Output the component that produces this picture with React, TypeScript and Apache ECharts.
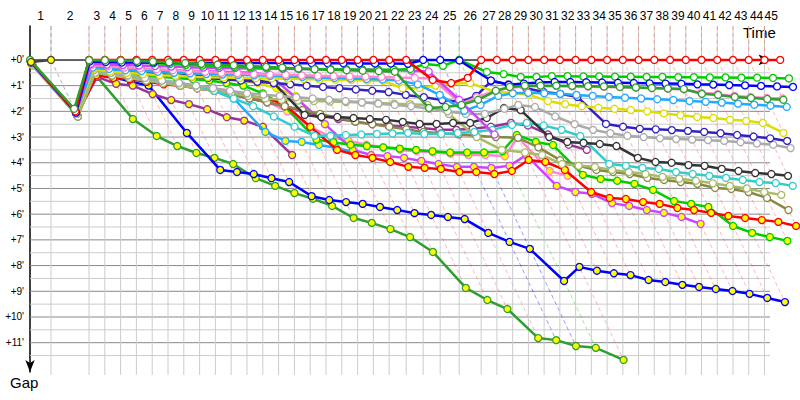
import React, { useEffect, useRef } from "react";
import * as echarts from "echarts";

// leader lap times in seconds, laps 1..45
const lapSeconds = [
  103.3, 186.9,
  77.7, 77.7, 77.7, 77.7, 77.7, 77.7, 77.7, 77.7, 77.7, 77.7,
  77.7, 77.7, 77.7, 77.7, 77.7, 77.7, 77.7, 77.7, 77.7,
  83.6, 83.6, 83.6, 93.4, 108.2,
  77.4, 77.4, 77.4, 77.4, 77.4, 77.4, 77.4, 77.4, 77.4, 77.4,
  77.4, 77.4, 77.4, 77.4, 77.4, 77.4, 77.4, 77.4, 77.4,
];

const gapTicks = [0, 1, 2, 3, 4, 5, 6, 7, 8, 9, 10, 11];
const gapMinor = [0.5, 1.5, 2.5, 3.5, 4.5, 5.5, 6.5, 7.5, 8.5, 9.5, 10.5, 11.5];

// gaps (minutes) to the leader, per lap, starting at lap 0
const redWhite = [0.05, 2.0, 0, 0, 0, 0, 0, 0, 0, 0, 0, 0, 0, 0, 0, 0, 0, 0, 0, 0, 0, 0, 0, 0.78, 0.9, 0.7, 0, 0, 0, 0, 0, 0, 0, 0, 0, 0, 0, 0, 0, 0, 0, 0, 0, 0, 0, 0];
const blueWhite = [0.1, 2.05, 0.06, 0.08, 0.1, 0.1, 0.1, 0.1, 0.12, 0.12, 0.12, 0.12, 0.12, 0.12, 0.12, 0.13, 0.13, 0.13, 0.13, 0.14, 0.14, 0.14, 0.15, 0, 0, 0.02, 0.8, 0.97, 0.92, 0.88, 0.86, 0.86, 0.87, 0.88, 0.89, 0.9, 0.91, 0.92, 0.93, 0.95, 0.96, 0.98, 0.99, 1.01, 1.03, 1.05];
const limeWhite = [0.04, 1.95, 0.01, 0.04, 0.07, 0.1, 0.13, 0.16, 0.19, 0.22, 0.25, 0.27, 0.29, 0.31, 0.33, 0.34, 0.35, 0.36, 0.37, 0.38, 0.38, 0.38, 0.35, 0.16, 0.23, 0, 0.47, 0.55, 0.66, 0.66, 0.63, 0.63, 0.64, 0.64, 0.65, 0.65, 0.66, 0.66, 0.67, 0.67, 0.68, 0.68, 0.69, 0.69, 0.7, 0.72];
const greenWhite = [0.0, 1.9, 0.01, 0.01, 0.02, 0.04, 0.06, 0.09, 0.12, 0.15, 0.18, 0.21, 0.24, 0.27, 0.3, 0.33, 0.36, 0.38, 0.4, 0.42, 0.44, 0.46, 1.87, 1.83, 1.75, 1.55, 1.2, 1.05, 1.0, 1.0, 1.0, 1.01, 1.02, 1.03, 1.05, 1.07, 1.09, 1.11, 1.13, 1.32, 1.36, 1.44, 1.48, 1.52, 1.55];
const pinkWhite = [0.1, 2.0, 0.2, 0.25, 0.3, 0.33, 0.36, 0.4, 0.43, 0.46, 0.5, 0.52, 0.55, 0.57, 0.58, 0.6, 0.62, 0.63, 0.64, 0.65, 0.66, 0.68, 0.7, 0.72, 1.7, 1.45, 1.2, 1.08, 1.03, 1.02, 1.02, 1.03, 1.04, 1.05, 1.06, 1.08, 1.1, 1.12, 1.15, 1.28, 1.33, 1.4, 1.44, 1.48, 1.5];
const violetWhite = [0.1, 2.05, 0.15, 0.18, 0.2, 0.22, 0.24, 0.26, 0.28, 0.3, 0.31, 0.32, 0.33, 0.34, 0.35, 0.35, 0.36, 0.36, 0.37, 0.37, 0.38, 0.4, 0.42, 0.45, 1.55, 2.9];
const skyWhite = [0.1, 2.05, 0.3, 0.35, 0.4, 0.43, 0.46, 0.5, 0.52, 0.55, 0.57, 0.58, 0.6, 0.62, 0.64, 0.66, 0.68, 0.7, 0.72, 0.74, 0.76, 0.8, 0.95, 1.36, 1.98, 1.75, 1.4, 1.3, 1.28, 1.3, 1.32, 1.36, 1.4, 1.44, 1.47, 1.5, 1.53, 1.56, 1.6, 1.63, 1.66, 1.7, 1.74, 1.78, 1.83];
const yellowWhite = [0.15, 2.1, 0.35, 0.45, 0.5, 0.55, 0.6, 0.62, 0.65, 0.67, 0.68, 0.7, 0.71, 0.72, 0.73, 0.74, 0.76, 0.77, 0.78, 0.8, 0.82, 1.1, 1.09, 1.0, 0.93, 0.9, 1.25, 1.28, 1.36, 1.6, 1.72, 1.8, 1.86, 1.9, 1.95, 2.0, 2.08, 2.15, 2.22, 2.26, 2.33, 2.37, 2.45, 2.84];
const navyWhite = [0.12, 2.1, 0.3, 0.38, 0.45, 0.5, 0.55, 0.6, 0.65, 0.7, 0.75, 0.8, 0.85, 0.9, 0.95, 1.0, 1.05, 1.1, 1.15, 1.2, 1.25, 1.36, 1.45, 1.56, 1.63, 1.4, 0.82, 0.95, 1.1, 1.25, 1.32, 1.44, 2.49, 2.6, 2.68, 2.7, 2.73, 2.76, 2.8, 2.85, 2.92, 2.98, 3.05, 3.15];
const grayWhite = [0.15, 2.1, 0.4, 0.5, 0.6, 0.7, 0.8, 0.9, 1.0, 1.1, 1.2, 1.3, 1.35, 1.4, 1.45, 1.5, 1.55, 1.6, 1.65, 1.7, 1.75, 1.8, 1.9, 2.0, 2.1, 2.1, 1.9, 1.75, 1.83, 2.2, 2.5, 2.72, 2.85, 2.95, 3.0, 3.05, 3.08, 3.1, 3.12, 3.15, 3.2, 3.25, 3.3, 3.43];
const blackWhite = [0.1, 2.1, 0.2, 0.25, 0.3, 0.35, 0.4, 0.47, 0.6, 0.65, 0.68, 0.72, 0.8, 0.9, 2.14, 2.22, 2.22, 2.26, 2.3, 2.33, 2.41, 2.49, 2.49, 2.45, 2.45, 2.26, 1.87, 1.95, 3.0, 3.19, 3.23, 3.27, 3.35, 3.81, 3.97, 4.0, 4.09, 4.12, 4.24, 4.32, 4.4, 4.44, 4.51];
const cyanWhite = [0.12, 2.1, 0.4, 0.5, 0.6, 0.7, 0.8, 0.9, 1.0, 1.2, 1.5, 1.8, 2.2, 2.6, 2.95, 2.95, 2.92, 2.9, 2.88, 2.86, 2.84, 2.88, 2.88, 2.84, 2.8, 2.72, 2.53, 2.45, 2.55, 2.72, 2.96, 4.05, 4.12, 4.2, 4.24, 4.36, 4.44, 4.51, 4.59, 4.67, 4.75, 4.79, 4.9];
const oliveLightWhite = [0.2, 2.2, 0.5, 0.6, 0.7, 0.8, 0.9, 1.0, 1.1, 1.2, 1.3, 1.4, 1.5, 1.55, 1.58, 1.6, 1.62, 1.64, 1.66, 1.68, 1.7, 1.72, 1.75, 2.1, 3.0, 3.5, 3.6, 3.7, 4.05, 4.12, 4.16, 4.28, 4.36, 4.44, 4.55, 4.62, 4.7, 4.8, 4.9, 5.0, 5.14, 5.25];
const oliveWhite = [0.2, 2.2, 0.5, 0.6, 0.7, 0.8, 0.9, 1.0, 1.1, 1.2, 1.35, 1.5, 1.65, 1.8, 1.95, 2.1, 2.25, 2.4, 2.5, 2.6, 2.7, 2.8, 2.85, 2.9, 2.95, 3.0, 3.03, 3.4, 3.9, 4.12, 4.28, 4.36, 4.44, 4.59, 4.67, 4.75, 4.82, 4.98, 5.02, 5.14, 5.37, 5.84];
const purpleWhite = [0.15, 2.15, 0.5, 0.6, 0.7, 0.8, 0.9, 1.0, 1.1, 1.2, 1.35, 1.5, 1.65, 1.8, 2.0, 2.15, 2.3, 2.4, 2.5, 2.55, 2.6, 2.65, 2.72, 2.72, 2.68, 2.6, 2.45, 2.55, 2.9, 3.3, 3.5];
const redYellow = [0.15, 2.15, 0.6, 0.7, 0.75, 0.85, 0.95, 1.0, 1.1, 1.2, 1.3, 1.4, 1.5, 1.7, 2.6, 3.5, 3.7, 3.81, 3.97, 4.16, 4.2, 4.24, 4.36, 4.36, 4.44, 4.32, 3.89, 3.97, 4.28, 5.14, 5.37, 5.41, 5.53, 5.6, 5.76, 5.84, 5.95, 6.07, 6.15, 6.23, 6.3, 6.46];
const limeYellow = [0.15, 2.15, 0.5, 0.55, 0.6, 0.62, 0.65, 0.7, 0.75, 0.8, 0.9, 1.0, 1.3, 1.8, 3.1, 3.2, 3.3, 3.35, 3.4, 3.45, 3.5, 3.55, 3.6, 3.6, 3.6, 3.55, 2.92, 3.19, 3.31, 4.47, 4.63, 4.7, 4.82, 5.06, 5.49, 5.6, 5.72, 6.46, 6.73, 6.89, 7.04];
const violetYellow = [0.15, 2.15, 0.3, 0.32, 0.34, 0.36, 0.38, 0.4, 0.42, 0.44, 0.46, 0.48, 0.5, 0.6, 1.5, 2.5, 3.5, 3.7, 3.74, 3.81, 3.93, 4.05, 4.16, 4.16, 4.2, 4.12, 3.7, 4.9, 5.14, 5.21, 5.57, 5.68, 5.84, 5.95, 6.11, 6.38];
const pinkYellow = [0.15, 2.15, 0.4, 0.5, 0.6, 0.7, 0.8, 0.9, 1.0, 1.1, 1.2, 1.4, 1.6, 2.0, 2.6, 3.0, 3.15, 3.3, 3.4, 3.5, 3.55, 3.6, 3.65, 3.7, 3.7, 3.75, 3.0, 4.32, 4.51];
const skyYellow = [0.15, 2.15, 0.45, 0.55, 0.65, 0.75, 0.85, 0.95, 1.05, 1.2, 1.5, 2.8, 3.15, 3.19, 3.31, 3.42, 3.58];
const blueYellow = [0.1, 2.2, 0.35, 0.66, 0.85, 1.0, 2.84, 4.28, 4.36, 4.44, 4.6, 4.75, 5.3, 5.45, 5.53, 5.6, 5.72, 5.84, 5.96, 6.03, 6.11, 6.19, 6.73, 7.08, 7.35, 8.6, 8.05, 8.2, 8.3, 8.37, 8.56, 8.64, 8.75, 8.83, 8.91, 8.99, 9.1, 9.26, 9.42];
const greenYellow = [0.2, 2.1, 0.66, 2.3, 2.96, 3.35, 3.62, 3.81, 4.05, 4.6, 4.9, 5.18, 5.4, 5.68, 6.15, 6.34, 6.58, 6.89, 7.47, 8.87, 9.34, 9.69, 10.82, 10.9, 11.13, 11.2, 11.67];
const purpleYellow = [0.1, 2.1, 0.66, 0.93, 1.0, 1.33, 1.56, 1.72, 1.92, 2.23, 2.36, 2.6, 3.7];
const yellowYellow = [0.1, 2.0, 0.45, 0.5, 0.55, 0.6, 0.62, 0.65, 0.68, 0.7, 0.75, 0.8, 0.9, 1.1, 1.4];
const charcoalYellow = [0.08, 0];

// bottom to top drawing order
const drivers = [
  { color: "#2e9e2e", fill: "#ffff00", gaps: greenYellow },
  { color: "#0000ff", fill: "#ffff00", gaps: blueYellow },
  { color: "#993399", fill: "#ffff00", gaps: purpleYellow },
  { color: "#dddd00", fill: "#ffff00", gaps: yellowYellow },
  { color: "#22aaff", fill: "#ffff00", gaps: skyYellow },
  { color: "#ff88cc", fill: "#ffff00", gaps: pinkYellow },
  { color: "#cc44ff", fill: "#ffff00", gaps: violetYellow },
  { color: "#00cc00", fill: "#ffff00", gaps: limeYellow },
  { color: "#ff0000", fill: "#ffff00", gaps: redYellow },
  { color: "#993399", fill: "#ffffff", gaps: purpleWhite },
  { color: "#888844", fill: "#ffffff", gaps: oliveWhite },
  { color: "#aabb66", fill: "#ffffff", gaps: oliveLightWhite },
  { color: "#33cccc", fill: "#ffffff", gaps: cyanWhite },
  { color: "#333333", fill: "#ffffff", gaps: blackWhite },
  { color: "#aaaaaa", fill: "#ffffff", gaps: grayWhite },
  { color: "#3322bb", fill: "#ffffff", gaps: navyWhite },
  { color: "#dddd00", fill: "#ffffff", gaps: yellowWhite },
  { color: "#22aaff", fill: "#ffffff", gaps: skyWhite },
  { color: "#ff88cc", fill: "#ffffff", gaps: pinkWhite },
  { color: "#cc44ff", fill: "#ffffff", gaps: violetWhite },
  { color: "#00cc00", fill: "#ffffff", gaps: limeWhite },
  { color: "#0000ff", fill: "#ffffff", gaps: blueWhite },
  { color: "#ff0000", fill: "#ffffff", gaps: redWhite },
  { color: "#2e9e2e", fill: "#ffffff", gaps: greenWhite },
  { color: "#444444", fill: "#ffff00", gaps: charcoalYellow },
];

const PX_PER_MIN = 12.2;
const X_MAX_AXIS = 61.31;
const X_MAX_DATA = 63;
const X_GRID_END = 60.66;
const Y_MIN = -1.32;
const Y_MAX = 12.14;
const GRID_BOTTOM_GAP = 12.25;

export default function App() {
  const ref = useRef<HTMLDivElement>(null);
  useEffect(() => {
    if (!ref.current) return;
    const chart = echarts.init(ref.current, undefined, { renderer: "svg" });

    const leaderTime: number[] = [0];
    lapSeconds.forEach((s, i) => leaderTime.push(leaderTime[i] + s / 60));

    const lapCount = lapSeconds.length;
    const labelPos: number[] = [];
    const labelLap = new Map<string, number>();
    for (let k = 1; k <= lapCount; k++) {
      const a = leaderTime[k - 1];
      const b = Math.min(leaderTime[k], X_MAX_AXIS);
      const m = (a + b) / 2;
      labelPos.push(m);
      labelLap.set(m.toFixed(4), k);
    }

    const lapInfo: any[] = [];
    for (let k = 1; k <= lapCount; k++) {
      let maxGap = 0;
      let minGap = Infinity;
      let leadColor = "#999999";
      drivers.forEach((d) => {
        if (k < d.gaps.length) {
          const g = d.gaps[k];
          if (g > maxGap) maxGap = g;
          if (g < minGap) {
            minGap = g;
            leadColor = d.color;
          }
        }
      });
      if (leaderTime[k] <= X_GRID_END + 0.5) lapInfo.push([leaderTime[k], maxGap, leadColor, k]);
    }

    const hLines = [
      ...gapTicks.map((g) => [g, 1]),
      ...gapMinor.map((g) => [g, 0]),
    ];

    const gridSeries: any[] = [
      {
        type: "custom",
        silent: true,
        xAxisIndex: 0,
        yAxisIndex: 0,
        z: 1,
        data: hLines,
        renderItem: (params: any, api: any) => {
          const g = api.value(0);
          const major = api.value(1) === 1;
          const p1 = api.coord([0, g]);
          const p2 = api.coord([X_GRID_END, g]);
          return {
            type: "line",
            shape: { x1: p1[0], y1: p1[1], x2: p2[0], y2: p2[1] },
            style: { stroke: major ? "#888888" : "#cccccc", lineWidth: 1 },
          };
        },
      },
      {
        type: "custom",
        silent: true,
        xAxisIndex: 0,
        yAxisIndex: 0,
        z: 2,
        data: lapInfo.map((d) => [d[0], d[1]]),
        renderItem: (params: any, api: any) => {
          const t = api.value(0);
          const maxGap = api.value(1);
          const col = lapInfo[params.dataIndex][2];
          const top = api.coord([t, Y_MIN]);
          const bottom = api.coord([t, GRID_BOTTOM_GAP]);
          const zero = api.coord([t, 0]);
          const end = api.coord([t + maxGap, maxGap]);
          const dashColor = col === "#ff0000" ? "rgba(255,90,90,0.45)" : echarts.color.modifyAlpha(col, 0.4);
          return {
            type: "group",
            children: [
              {
                type: "line",
                shape: { x1: top[0], y1: top[1], x2: bottom[0], y2: bottom[1] },
                style: { stroke: "#cccccc", lineWidth: 1 },
              },
              {
                type: "polyline",
                shape: { points: [top, zero, end] },
                style: { stroke: dashColor, lineWidth: 1, lineDash: [4, 3], fill: null },
              },
            ],
          };
        },
      },
    ];

    const driverSeries = drivers.map((d, i) => ({
      type: "line",
      xAxisIndex: 0,
      yAxisIndex: 0,
      z: 10 + i,
      silent: true,
      clip: false,
      symbol: "circle",
      symbolSize: 7,
      showAllSymbol: true,
      data: d.gaps.map((g, k) => [leaderTime[k] + g, g]),
      lineStyle: { color: d.color, width: 2.5 },
      itemStyle: { color: d.fill, borderColor: d.color, borderWidth: 1.3 },
    }));

    const dataWidth = X_MAX_DATA * PX_PER_MIN;
    const axisWidth = X_MAX_AXIS * PX_PER_MIN;

    chart.setOption({
      animation: false,
      grid: [
        { left: 30, width: dataWidth, top: 26, bottom: 28 },
        { left: 30, width: axisWidth, top: 26, bottom: 28 },
      ],
      xAxis: [
        { type: "value", gridIndex: 0, min: 0, max: X_MAX_DATA, show: false },
        {
          type: "value",
          gridIndex: 1,
          position: "top",
          min: 0,
          max: X_MAX_AXIS,
          splitLine: { show: false },
          axisTick: { show: false },
          axisLine: {
            show: true,
            lineStyle: { color: "#000", width: 1.5 },
            symbol: ["none", "arrow"],
            symbolSize: [8, 13],
            symbolOffset: [0, -6.5],
          },
          axisLabel: {
            customValues: labelPos,
            margin: 4,
            fontSize: 12,
            fontFamily: "Liberation Sans",
            color: "#000",
            hideOverlap: false,
            showMinLabel: true,
            showMaxLabel: true,
            formatter: (v: number) => String(labelLap.get(v.toFixed(4)) ?? ""),
          },
        },
      ],
      yAxis: [
        { type: "value", gridIndex: 0, inverse: true, min: Y_MIN, max: Y_MAX, show: false },
        {
          type: "value",
          gridIndex: 1,
          inverse: true,
          min: Y_MIN,
          max: Y_MAX,
          splitLine: { show: false },
          axisTick: { show: false },
          axisLine: {
            show: true,
            lineStyle: { color: "#000", width: 1.5 },
            symbol: ["arrow", "none"],
            symbolSize: [7, 12],
          },
          axisLabel: {
            customValues: gapTicks,
            margin: 6,
            fontSize: 10,
            fontFamily: "Liberation Sans",
            color: "#000",
            formatter: (v: number) => `+${v}'`,
          },
        },
      ],
      graphic: [
        {
          type: "text",
          left: 743,
          top: 25,
          style: { text: "Time", font: "15px 'Liberation Sans'", fill: "#000" },
        },
        {
          type: "text",
          left: 10,
          top: 375,
          style: { text: "Gap", font: "15px 'Liberation Sans'", fill: "#000" },
        },
      ],
      series: [...gridSeries, ...driverSeries],
    });
    return () => chart.dispose();
  }, []);
  return <div ref={ref} style={{ width: 800, height: 400, position: "absolute", left: 0, top: 0 }} />;
}
